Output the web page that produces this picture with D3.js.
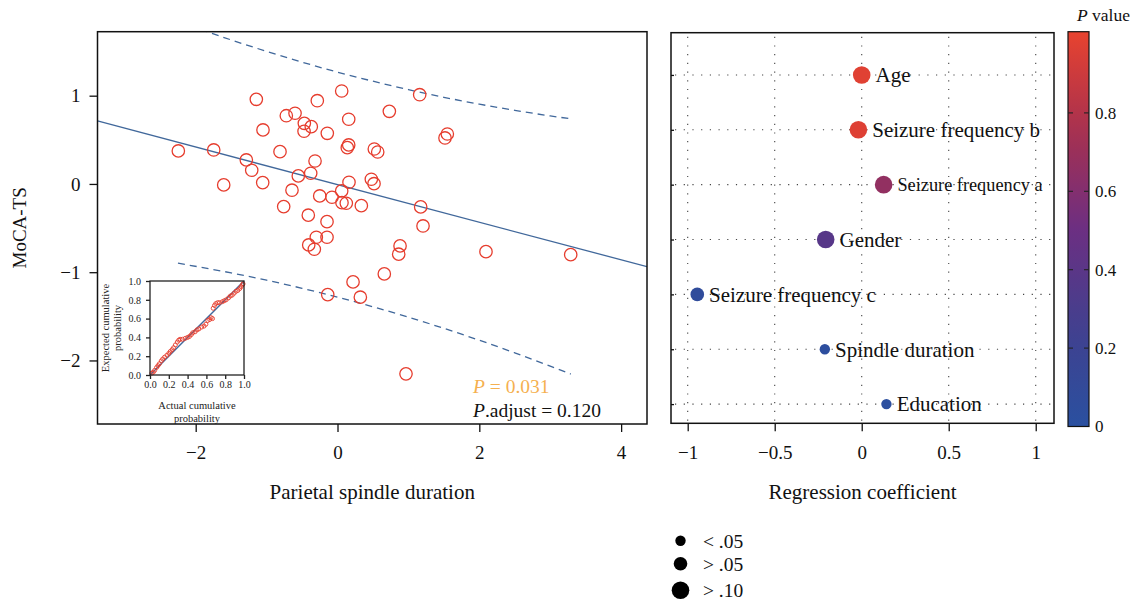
<!DOCTYPE html>
<html>
<head>
<meta charset="utf-8">
<script src="https://cdn.jsdelivr.net/npm/d3@7"></script>
<style>
  body { margin: 0; background: #fff; }
  svg { display: block; font-family: "Liberation Serif", "DejaVu Serif", serif; }
</style>
</head>
<body>
<svg id="chart" width="1135" height="605"></svg>
<script>
// left panel: parietal spindle duration vs MoCA-TS (standardized)
var spindleX = [-2.245, -1.746, -1.605, -1.145, -1.051, -1.286, -1.210, -1.055, -0.811, -0.722,
  -0.599, -0.468, -0.370, -0.472, -0.285, -0.144, 0.059, 0.158, 0.158, 0.138,
  -0.317, -0.378, -0.553, -0.642, -0.759, -0.412, -0.148, -0.251, -0.078, 0.059,
  0.063, 0.124, 0.336, 0.162, 0.519, 0.567, 0.477, 0.515, 1.159, 0.731,
  1.549, 1.516, 1.173, 1.206, -0.406, -0.327, -0.299, -0.148, -0.138, 0.219,
  0.322, 0.882, 0.863, 2.094, 3.289, 0.660, 0.966];
var mocaY = [0.374, 0.385, -0.011, 0.959, 0.612, 0.272, 0.155, 0.015, 0.366, 0.773,
  0.801, 0.687, 0.649, 0.597, 0.943, 0.574, 1.053, 0.733, 0.442, 0.411,
  0.260, 0.121, 0.091, -0.071, -0.257, -0.354, -0.427, -0.136, -0.151, -0.079,
  -0.212, -0.219, -0.246, 0.019, 0.396, 0.362, 0.053, 0.003, 1.011, 0.823,
  0.566, 0.521, -0.260, -0.476, -0.691, -0.740, -0.604, -0.604, -1.254, -1.110,
  -1.283, -0.702, -0.796, -0.767, -0.801, -1.019, -2.152];

// fitted line and prediction band
var fitIntercept = -0.0075;
var fitSlope = -0.213;
var bandX = [-2.25, -1.5, -1, -0.5, 0, 0.5, 1, 1.5, 2, 2.5, 3, 3.29];
var bandUpper = [1.842, 1.632, 1.502, 1.380, 1.267, 1.164, 1.069, 0.982, 0.904, 0.834, 0.771, 0.738];
var bandLower = [-0.898, -1.008, -1.091, -1.182, -1.282, -1.392, -1.510, -1.636, -1.771, -1.914, -2.064, -2.154];

var xTicks = [-2, 0, 2, 4];
var yTicks = [-2, -1, 0, 1];
var pText = "0.031";
var pAdjText = "0.120";

// inset P-P plot
var ppActual = [0.02, 0.035, 0.05, 0.07, 0.085, 0.10, 0.12, 0.135, 0.155, 0.18,
  0.20, 0.215, 0.235, 0.25, 0.27, 0.29, 0.305, 0.32, 0.345, 0.375,
  0.40, 0.42, 0.44, 0.455, 0.48, 0.50, 0.52, 0.55, 0.575, 0.595,
  0.615, 0.635, 0.65, 0.665, 0.672, 0.686, 0.70, 0.72, 0.74, 0.77,
  0.79, 0.81, 0.835, 0.855, 0.875, 0.895, 0.915, 0.935, 0.955, 0.97,
  0.985, 0.99];
var ppExpected = [0.02, 0.03, 0.05, 0.08, 0.10, 0.12, 0.15, 0.17, 0.19, 0.21,
  0.23, 0.25, 0.27, 0.29, 0.32, 0.35, 0.37, 0.38, 0.38, 0.39,
  0.40, 0.41, 0.43, 0.45, 0.46, 0.48, 0.49, 0.51, 0.52, 0.54,
  0.58, 0.59, 0.61, 0.60, 0.71, 0.74, 0.76, 0.77, 0.77, 0.78,
  0.79, 0.80, 0.82, 0.84, 0.85, 0.87, 0.89, 0.90, 0.92, 0.94,
  0.96, 0.97];
var ppTicks = [0, 0.2, 0.4, 0.6, 0.8, 1.0];

// right panel: regression coefficients
var factors = ["Age", "Seizure frequency b", "Seizure frequency a", "Gender",
  "Seizure frequency c", "Spindle duration", "Education"];
var coefs = [0.00, -0.019, 0.126, -0.207, -0.945, -0.212, 0.142];
var pValues = [0.97, 0.96, 0.66, 0.38, 0.07, 0.031, 0.02];
var coefTicks = [-1, -0.5, 0, 0.5, 1];
var colorTicks = [0, 0.2, 0.4, 0.6, 0.8];
var sizeLabels = ["< .05", "> .05", "> .10"];
var sizeSamples = [0.01, 0.07, 0.5];

var svg = d3.select("#chart");
var serif = '"Liberation Serif", "DejaVu Serif", serif';
var red = "#e63d2e";
var blue = "#41689b";

function styleAxis(a, fs, col) {
  a.attr("font-family", serif);
  a.select(".domain").remove();
  a.selectAll("line").attr("stroke", col).attr("stroke-width", 1.3);
  a.selectAll("text").attr("font-size", fs).attr("fill", col);
}

// ---------- left panel ----------
var x = d3.scaleLinear().domain([-3.385, 4.365]).range([97.5, 647]);
var y = d3.scaleLinear().domain([-2.72, 1.725]).range([424, 31.7]);

svg.append("defs").append("clipPath").attr("id", "clipL")
  .append("rect")
  .attr("x", x.range()[0]).attr("y", y.range()[1])
  .attr("width", x.range()[1] - x.range()[0])
  .attr("height", y.range()[0] - y.range()[1]);

var left = svg.append("g");

var xAxis = left.append("g")
  .attr("transform", "translate(0," + y.range()[0] + ")")
  .call(d3.axisBottom(x).tickValues(xTicks).tickFormat(d3.format(""))
    .tickSize(8).tickPadding(14).tickSizeOuter(0));
var yAxis = left.append("g")
  .attr("transform", "translate(" + x.range()[0] + ",0)")
  .call(d3.axisLeft(y).tickValues(yTicks).tickFormat(d3.format(""))
    .tickSize(8).tickPadding(9).tickSizeOuter(0));
styleAxis(xAxis, 19, "#111");
styleAxis(yAxis, 19, "#111");

var plotL = left.append("g").attr("clip-path", "url(#clipL)");

plotL.append("line")
  .attr("x1", x(x.domain()[0])).attr("y1", y(fitIntercept + fitSlope * x.domain()[0]))
  .attr("x2", x(x.domain()[1])).attr("y2", y(fitIntercept + fitSlope * x.domain()[1]))
  .attr("stroke", blue).attr("stroke-width", 1.3);

var band = d3.line().x(function(d) { return x(d[0]); }).y(function(d) { return y(d[1]); })
  .curve(d3.curveMonotoneX);
[bandUpper, bandLower].forEach(function(vals) {
  plotL.append("path")
    .attr("d", band(bandX.map(function(v, i) { return [v, vals[i]]; })))
    .attr("fill", "none").attr("stroke", blue).attr("stroke-width", 1.3)
    .attr("stroke-dasharray", "7,5");
});

plotL.selectAll("circle.pt")
  .data(spindleX.map(function(v, i) { return [v, mocaY[i]]; }))
  .enter().append("circle")
  .attr("class", "pt")
  .attr("cx", function(d) { return x(d[0]); })
  .attr("cy", function(d) { return y(d[1]); })
  .attr("r", 6.2)
  .attr("fill", "none").attr("stroke", red).attr("stroke-width", 1.3);

left.append("rect")
  .attr("x", x.range()[0]).attr("y", y.range()[1])
  .attr("width", x.range()[1] - x.range()[0])
  .attr("height", y.range()[0] - y.range()[1])
  .attr("fill", "none").attr("stroke", "#111").attr("stroke-width", 1.5);

var pLabel = left.append("text").attr("x", 473).attr("y", 392.5)
  .attr("font-size", 19.5).attr("fill", "#f5b04f");
pLabel.append("tspan").attr("font-style", "italic").text("P");
pLabel.append("tspan").text(" = " + pText);
var pAdj = left.append("text").attr("x", 473).attr("y", 417)
  .attr("font-size", 19.5).attr("fill", "#111");
pAdj.append("tspan").attr("font-style", "italic").text("P");
pAdj.append("tspan").text(".adjust = " + pAdjText);

left.append("text")
  .attr("x", (x.range()[0] + x.range()[1]) / 2).attr("y", 499)
  .attr("text-anchor", "middle").attr("font-size", 21).attr("fill", "#111")
  .text("Parietal spindle duration");
left.append("text")
  .attr("transform", "translate(26," + (y.range()[0] + y.range()[1]) / 2 + ") rotate(-90)")
  .attr("text-anchor", "middle").attr("font-size", 19).attr("fill", "#111")
  .text("MoCA-TS");

// ---------- inset P-P plot ----------
var ix = d3.scaleLinear().domain([0, 1]).range([150, 244]);
var iy = d3.scaleLinear().domain([0, 1]).range([375, 281]);
var inset = svg.append("g");

inset.append("rect")
  .attr("x", ix.range()[0]).attr("y", iy.range()[1])
  .attr("width", ix.range()[1] - ix.range()[0])
  .attr("height", iy.range()[0] - iy.range()[1])
  .attr("fill", "#fff");

var ixAxis = inset.append("g").attr("transform", "translate(0," + iy.range()[0] + ")")
  .call(d3.axisBottom(ix).tickValues(ppTicks).tickFormat(d3.format(".1f"))
    .tickSize(4).tickPadding(2).tickSizeOuter(0));
var iyAxis = inset.append("g").attr("transform", "translate(" + ix.range()[0] + ",0)")
  .call(d3.axisLeft(iy).tickValues(ppTicks).tickFormat(d3.format(".1f"))
    .tickSize(4).tickPadding(5).tickSizeOuter(0));
styleAxis(ixAxis, 10, "#222");
styleAxis(iyAxis, 10, "#222");

inset.append("line")
  .attr("x1", ix(0)).attr("y1", iy(0)).attr("x2", ix(1)).attr("y2", iy(1))
  .attr("stroke", blue).attr("stroke-width", 1.4);

inset.selectAll("circle.pp")
  .data(ppActual.map(function(v, i) { return [v, ppExpected[i]]; }))
  .enter().append("circle")
  .attr("class", "pp")
  .attr("cx", function(d) { return ix(d[0]); })
  .attr("cy", function(d) { return iy(d[1]); })
  .attr("r", 2)
  .attr("fill", "none").attr("stroke", red).attr("stroke-width", 0.9);

inset.append("rect")
  .attr("x", ix.range()[0]).attr("y", iy.range()[1])
  .attr("width", ix.range()[1] - ix.range()[0])
  .attr("height", iy.range()[0] - iy.range()[1])
  .attr("fill", "none").attr("stroke", "#222").attr("stroke-width", 1.3);

var icx = (ix.range()[0] + ix.range()[1]) / 2;
inset.append("text").attr("x", icx).attr("y", 409).attr("text-anchor", "middle")
  .attr("font-size", 10.5).attr("fill", "#222").text("Actual cumulative");
inset.append("text").attr("x", icx).attr("y", 422).attr("text-anchor", "middle")
  .attr("font-size", 10.5).attr("fill", "#222").text("probability");
var icy = (iy.range()[0] + iy.range()[1]) / 2;
inset.append("text").attr("transform", "translate(109," + icy + ") rotate(-90)")
  .attr("text-anchor", "middle").attr("font-size", 10.5).attr("fill", "#222")
  .text("Expected cumulative");
inset.append("text").attr("transform", "translate(121," + icy + ") rotate(-90)")
  .attr("text-anchor", "middle").attr("font-size", 10.5).attr("fill", "#222")
  .text("probability");

// ---------- right panel ----------
var cx = d3.scaleLinear().domain([-1.096, 1.105]).range([671, 1054]);
var cy = d3.scaleLinear().domain([-0.35, 6.77]).range([423.3, 32.7]);
var color = d3.scaleLinear()
  .domain([0, 0.25, 0.5, 0.75, 1])
  .range(["#2a50a0", "#41408f", "#6c2f82", "#a7304f", "#e8432f"]);
var size = d3.scaleThreshold().domain([0.05, 0.10]).range([5.2, 6.8, 8.8]);
var rowOf = function(i) { return factors.length - 1 - i; };

var right = svg.append("g");

var grid = right.append("g").attr("stroke", "#444").attr("stroke-width", 1.1)
  .attr("stroke-dasharray", "1.2,7.5");
coefTicks.forEach(function(t) {
  grid.append("line").attr("x1", cx(t)).attr("x2", cx(t))
    .attr("y1", cy.range()[1] + 4).attr("y2", cy.range()[0]);
});
factors.forEach(function(f, i) {
  grid.append("line").attr("x1", cx.range()[0] + 4).attr("x2", cx.range()[1])
    .attr("y1", cy(rowOf(i))).attr("y2", cy(rowOf(i)));
});

var cxAxis = right.append("g").attr("transform", "translate(0," + cy.range()[0] + ")")
  .call(d3.axisBottom(cx).tickValues(coefTicks).tickFormat(d3.format(""))
    .tickSize(8).tickPadding(14).tickSizeOuter(0));
styleAxis(cxAxis, 19, "#111");

var cyAxis = right.append("g").attr("transform", "translate(" + cx.range()[0] + ",0)")
  .call(d3.axisRight(cy).tickValues(factors.map(function(f, i) { return rowOf(i); }))
    .tickSize(3).tickFormat("").tickSizeOuter(0));
styleAxis(cyAxis, 19, "#111");

right.selectAll("circle.coef")
  .data(factors)
  .enter().append("circle")
  .attr("class", "coef")
  .attr("cx", function(f, i) { return cx(coefs[i]); })
  .attr("cy", function(f, i) { return cy(rowOf(i)); })
  .attr("r", function(f, i) { return size(pValues[i]); })
  .attr("fill", function(f, i) { return color(pValues[i]); });

right.selectAll("text.coef")
  .data(factors)
  .enter().append("text")
  .attr("class", "coef")
  .attr("x", function(f, i) { return cx(coefs[i]) + size(pValues[i]) + 5; })
  .attr("y", function(f, i) { return cy(rowOf(i)); })
  .attr("dy", "0.35em")
  .attr("font-size", function(f) { return f === "Seizure frequency a" ? 18.3 : 21; })
  .attr("fill", "#111")
  .text(function(f) { return f; });

right.append("rect")
  .attr("x", cx.range()[0]).attr("y", cy.range()[1])
  .attr("width", cx.range()[1] - cx.range()[0])
  .attr("height", cy.range()[0] - cy.range()[1])
  .attr("fill", "none").attr("stroke", "#111").attr("stroke-width", 1.5);

right.append("text")
  .attr("x", (cx.range()[0] + cx.range()[1]) / 2).attr("y", 499)
  .attr("text-anchor", "middle").attr("font-size", 21).attr("fill", "#111")
  .text("Regression coefficient");

// colour bar
var bar = d3.scaleLinear().domain([0, 1]).range([426.5, 34.5]);
var barX = 1068, barW = 21;
var grad = svg.select("defs").append("linearGradient").attr("id", "pgrad")
  .attr("x1", 0).attr("y1", 1).attr("x2", 0).attr("y2", 0);
d3.range(0, 1.001, 0.1).forEach(function(t) {
  grad.append("stop").attr("offset", t).attr("stop-color", color(t));
});
right.append("rect")
  .attr("x", barX).attr("y", 31.7).attr("width", barW).attr("height", bar(0) - 31.7)
  .attr("fill", "url(#pgrad)").attr("stroke", "#111").attr("stroke-width", 1.2);
colorTicks.forEach(function(t) {
  if (t > 0) {
    right.append("line").attr("x1", barX).attr("x2", barX + 5)
      .attr("y1", bar(t)).attr("y2", bar(t)).attr("stroke", "#222").attr("stroke-width", 1.1);
    right.append("line").attr("x1", barX + barW - 5).attr("x2", barX + barW)
      .attr("y1", bar(t)).attr("y2", bar(t)).attr("stroke", "#222").attr("stroke-width", 1.1);
  }
  right.append("text").attr("x", barX + barW + 6).attr("y", bar(t)).attr("dy", "0.35em")
    .attr("font-size", 17).attr("fill", "#111").text(d3.format("")(t));
});
var pv = right.append("text").attr("x", 1077).attr("y", 21)
  .attr("font-size", 17.5).attr("fill", "#111");
pv.append("tspan").attr("font-style", "italic").text("P");
pv.append("tspan").text(" value");

// size legend
var legend = right.append("g");
var ly = 540.7;
sizeSamples.forEach(function(s, i) {
  if (i > 0) ly += size(sizeSamples[i - 1]) + size(s) + 11;
  legend.append("circle").attr("cx", 680.5).attr("cy", ly).attr("r", size(s)).attr("fill", "#000");
  legend.append("text").attr("x", 703).attr("y", ly).attr("dy", "0.35em")
    .attr("font-size", 19.5).attr("fill", "#111").text(sizeLabels[i]);
});
</script>
</body>
</html>
